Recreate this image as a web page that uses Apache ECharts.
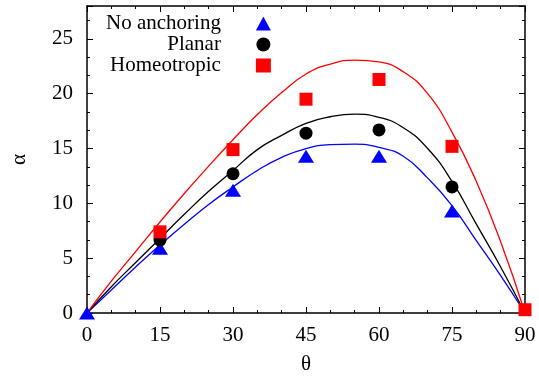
<!DOCTYPE html>
<html>
<head>
<meta charset="utf-8">
<script src="https://cdn.jsdelivr.net/npm/echarts@6/dist/echarts.min.js"></script>
<style>
  html, body { margin: 0; padding: 0; background: #fff; }
  #chart { width: 539px; height: 380px; }
</style>
</head>
<body>
<div id="chart"></div>
<script>
// fitted curves, every 5 degrees
const thetaFit = [0, 5, 10, 15, 20, 25, 30, 35, 40, 45, 50, 55, 60, 65, 70, 75, 80, 85, 90];
const fitNone = [0, 2.1, 4.2, 6.2, 8.1, 9.9, 11.5, 13.0, 14.2, 15.0, 15.35, 15.4, 15.1, 14.3, 12.3, 9.8, 6.6, 3.4, 0];
const fitPlanar = [0, 2.4, 4.6, 6.8, 9.0, 11.1, 13.0, 14.9, 16.2, 17.3, 17.9, 18.13, 17.85, 16.9, 15.0, 12.0, 8.1, 4.2, 0];
const fitHomeo = [0, 2.9, 5.6, 8.3, 10.9, 13.4, 15.8, 18.1, 20.1, 21.8, 22.7, 23.07, 22.9, 22.0, 20.0, 16.5, 12.0, 6.5, 0];

// measured points
const thetaNone = [0, 15, 30, 45, 60, 75];
const ptsNone = [0, 5.9, 11.2, 14.3, 14.3, 9.3];
const thetaPlanar = [15, 30, 45, 60, 75];
const ptsPlanar = [6.65, 12.7, 16.4, 16.7, 11.5];
const thetaHomeo = [15, 30, 45, 60, 75, 90];
const ptsHomeo = [7.4, 14.9, 19.5, 21.3, 15.2, 0.3];

const pairs = (xs, ys) => xs.map((x, i) => [x, ys[i]]);

const font = 'Liberation Serif';
const chart = echarts.init(document.getElementById('chart'));

const axisCommon = {
    axisLine: { onZero: false, lineStyle: { color: '#000', width: 1.5 } },
    axisTick: { inside: true, length: 6, lineStyle: { color: '#000' } },
    minorTick: { show: true, splitNumber: 3, length: 3, lineStyle: { color: '#000' } },
    splitLine: { show: false },
};

const fitLine = (name, data, color) => ({
    name, type: 'line', data, smooth: 0.5, symbol: 'none', z: 1,
    lineStyle: { color, width: 1.3 },
});

chart.setOption({
    animation: false,
    grid: { left: 87, right: 14, top: 6, bottom: 65 },
    legend: {
        orient: 'vertical',
        left: 106,
        top: 13,
        padding: 0,
        align: 'right',
        itemWidth: 15,
        itemHeight: 14,
        itemGap: 0,
        data: [
            { name: 'No anchoring', icon: 'triangle' },
            { name: 'Planar', icon: 'circle' },
            { name: 'Homeotropic', icon: 'rect' },
        ],
        textStyle: { fontFamily: font, fontSize: 21, lineHeight: 20.5, color: '#000', padding: [0, 30, 0, 0] },
    },
    xAxis: [
        {
            ...axisCommon,
            type: 'value', min: 0, max: 90, interval: 15,
            name: 'θ', nameLocation: 'middle', nameGap: 41,
            nameTextStyle: { fontFamily: font, fontSize: 21, color: '#000' },
            axisLabel: { fontFamily: font, fontSize: 21, color: '#000', margin: 12 },
        },
        {
            ...axisCommon,
            type: 'value', min: 0, max: 90, interval: 15, position: 'top',
            axisLabel: { show: false },
        },
    ],
    yAxis: [
        {
            ...axisCommon,
            type: 'value', min: 0, max: 28, interval: 5,
            name: 'α', nameLocation: 'middle', nameGap: 57,
            nameTextStyle: { fontFamily: font, fontSize: 21, color: '#000' },
            axisLabel: { fontFamily: font, fontSize: 21, color: '#000', margin: 14, showMaxLabel: false },
        },
        {
            ...axisCommon,
            type: 'value', min: 0, max: 28, interval: 5, position: 'right',
            axisLabel: { show: false },
        },
    ],
    series: [
        fitLine('fitNone', pairs(thetaFit, fitNone), '#0000ff'),
        fitLine('fitPlanar', pairs(thetaFit, fitPlanar), '#000000'),
        fitLine('fitHomeo', pairs(thetaFit, fitHomeo), '#ff0000'),
        { name: 'No anchoring', type: 'scatter', data: pairs(thetaNone, ptsNone), symbol: 'triangle',
          symbolSize: [16, 13], itemStyle: { color: '#0000ff', opacity: 1 }, z: 3 },
        { name: 'Planar', type: 'scatter', data: pairs(thetaPlanar, ptsPlanar), symbol: 'circle',
          symbolSize: 13, itemStyle: { color: '#000000', opacity: 1 }, z: 4 },
        { name: 'Homeotropic', type: 'scatter', data: pairs(thetaHomeo, ptsHomeo), symbol: 'rect',
          symbolSize: 13, itemStyle: { color: '#ff0000', opacity: 1 }, z: 5 },
    ],
});
</script>
</body>
</html>
